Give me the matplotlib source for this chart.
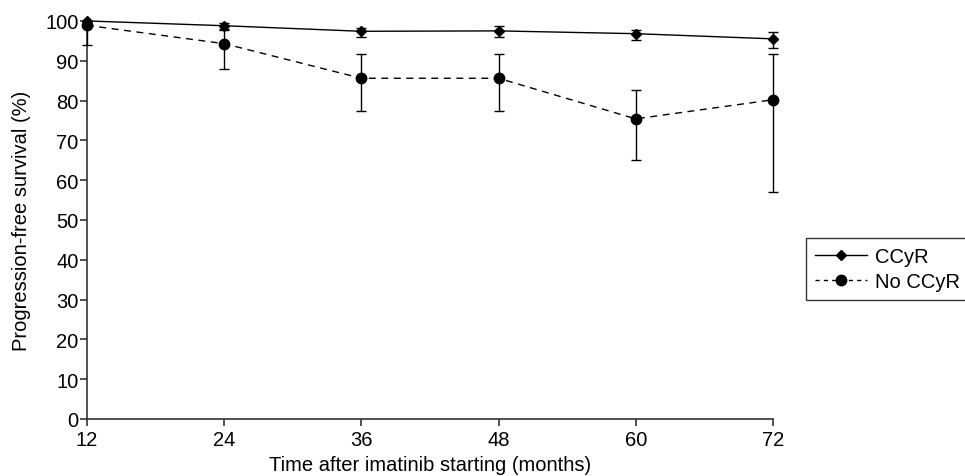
import matplotlib
matplotlib.use('Agg')
import matplotlib.pyplot as plt
from matplotlib.lines import Line2D

plt.rcParams['font.family'] = ['Liberation Sans', 'DejaVu Sans']

months = [12, 24, 36, 48, 60, 72]

ccyr = [100, 98.8, 97.4, 97.5, 96.8, 95.5]
ccyr_low = [100, 97.9, 95.9, 95.9, 95.1, 93.3]
ccyr_high = [100, 99.6, 98.3, 98.8, 97.8, 97.2]

no_ccyr = [98.9, 94.3, 85.6, 85.6, 75.4, 80.2]
no_ccyr_low = [94.0, 87.9, 77.3, 77.3, 65.1, 57.1]
no_ccyr_high = [100, 97.8, 91.6, 91.6, 82.6, 91.6]

FS = 14.5

fig = plt.figure(figsize=(9.65, 4.77), dpi=100)
ax = fig.add_axes([0.090, 0.1195, 0.711, 0.8345])

err_c = [[v - lo for v, lo in zip(ccyr, ccyr_low)], [hi - v for v, hi in zip(ccyr, ccyr_high)]]
err_n = [[v - lo for v, lo in zip(no_ccyr, no_ccyr_low)], [hi - v for v, hi in zip(no_ccyr, no_ccyr_high)]]

ax.errorbar(months, no_ccyr, yerr=err_n, color='black', linestyle=(0, (5, 4)), linewidth=1,
            marker='o', markersize=7.5, capsize=3.3, elinewidth=1, capthick=1,
            clip_on=False, zorder=3)
ax.errorbar(months, ccyr, yerr=err_c, color='black', linestyle='-', linewidth=1,
            marker='D', markersize=5.5, capsize=3.3, elinewidth=1, capthick=1,
            clip_on=False, zorder=4)

ax.set_xlim(12, 72)
ax.set_ylim(0, 100)
ax.set_xticks(months)
ax.set_yticks(range(0, 101, 10))
ax.spines['top'].set_visible(False)
ax.spines['right'].set_visible(False)
for s in ['left', 'bottom']:
    ax.spines[s].set_linewidth(1.2)
    ax.spines[s].set_color('#333333')
ax.tick_params(axis='x', direction='out', length=5, width=1.2, color='#333333', labelsize=FS, pad=3)
ax.tick_params(axis='y', direction='out', length=5, width=1.2, color='#333333', labelsize=FS, pad=1)
ax.set_xlabel('Time after imatinib starting (months)', fontsize=FS, labelpad=4)
ax.set_ylabel('Progression-free survival (%)', fontsize=FS, labelpad=10)

handles = [
    Line2D([], [], color='black', linestyle='-', linewidth=1, marker='D', markersize=5.5),
    Line2D([], [], color='black', linestyle=(0, (3, 3)), linewidth=1, marker='o', markersize=7.5),
]
leg = fig.legend(handles, ['CCyR', 'No CCyR'], loc='upper left',
                 bbox_to_anchor=(806 / 965, 1 - 239 / 477), fontsize=FS,
                 frameon=True, fancybox=False, edgecolor='black',
                 handlelength=2.6, borderpad=0.45, labelspacing=0.3, handletextpad=0.4,
                 borderaxespad=0)
leg.get_frame().set_linewidth(1)

fig.savefig('out.png', dpi=100)
